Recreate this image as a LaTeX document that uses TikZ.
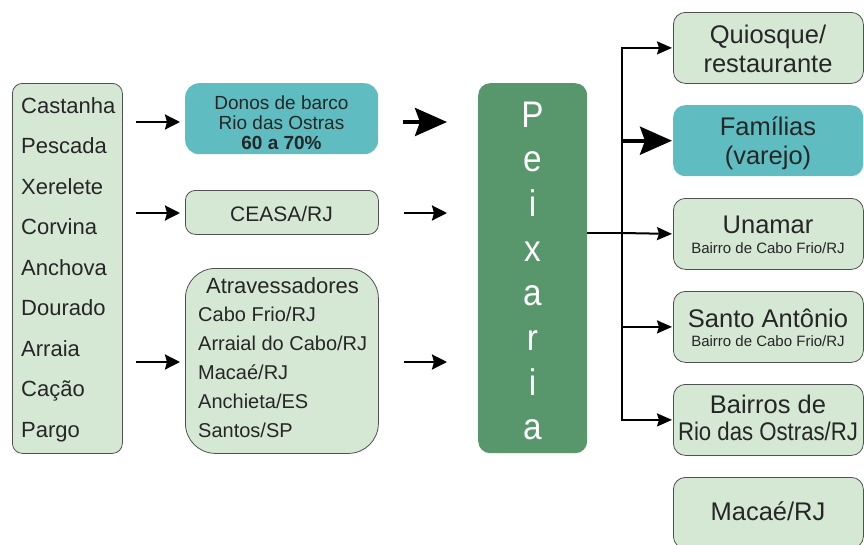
\documentclass[tikz,border=0pt]{standalone}
\usepackage{fontspec}
\setmainfont{Liberation Sans}
\usetikzlibrary{arrows.meta}
\definecolor{lg}{HTML}{D5E8D4}
\definecolor{tealbox}{HTML}{5FBDC1}
\definecolor{dg}{HTML}{58966B}
\definecolor{bd}{HTML}{505050}
\newcommand{\fsz}[1]{\fontsize{#1}{#1}\selectfont}
\begin{document}
\begin{tikzpicture}[x=1pt,y=-1pt,
  lbox/.style={draw=bd, line width=0.8pt, fill=lg, inner sep=0pt, anchor=north west},
  tbox/.style={fill=tealbox, inner sep=0pt, anchor=north west},
  pbox/.style={fill=dg, inner sep=0pt, anchor=north west},
  txt/.style={inner sep=0pt, anchor=base, text=black!85},
  txtl/.style={inner sep=0pt, anchor=base west, text=black!85},
  thinarrow/.style={line width=2.4pt, -{Stealth[length=15pt,width=15pt,inset=2pt]}},
  rarrow/.style={line width=2pt, -{Stealth[length=15pt,width=13pt,inset=2pt]}},
  thickarrow/.style={line width=4pt, -{Stealth[length=32pt,width=28pt,inset=5pt]}},
  conn/.style={line width=2pt}]
\useasboundingbox[fill=white] (0,0) rectangle (864,544);

% left column
\node[lbox, rounded corners=10pt, minimum width=110pt, minimum height=370pt] (fish) at (12,83) {};
\foreach \f [count=\i from 0] in {Castanha,Pescada,Xerelete,Corvina,Anchova,Dourado,Arraia,Cação,Pargo}
  \node[txtl, font=\fsz{22}] (f\i) at (21,{113+40.5*\i}) {\f};

% middle column
\node[tbox, rounded corners=14pt, minimum width=193pt, minimum height=71pt] (donos) at (185,83) {};
\node[txt, font=\fsz{19}] (d1) at (281.5,109) {Donos de barco};
\node[txt, font=\fsz{19}] (d2) at (281.5,129) {Rio das Ostras};
\node[txt, font=\fsz{19}\bfseries] (d3) at (281.5,149) {60 a 70\%};

\node[lbox, rounded corners=10pt, minimum width=193pt, minimum height=44pt] (ceasa) at (185,190) {};
\node[txt, font=\fsz{21}] (ce) at (281.5,221) {CEASA/RJ};

\node[lbox, rounded corners=30pt, minimum width=193pt, minimum height=185pt] (atr) at (185,268) {};
\node[txt, font=\fsz{22}] (at0) at (282.5,293) {Atravessadores};
\foreach \t [count=\i from 1] in {Cabo Frio/RJ,Arraial do Cabo/RJ,Macaé/RJ,Anchieta/ES,Santos/SP}
  \node[txtl, font=\fsz{20}] (at\i) at (198,{293+28.8*\i}) {\t};

% Peixaria
\node[pbox, rounded corners=12pt, minimum width=109pt, minimum height=370pt] (peix) at (478,83) {};
\foreach \l [count=\i from 0] in {P,e,i,x,a,r,i,a}
  \node[inner sep=0pt, anchor=base, text=white, font=\fsz{37}] (p\i) at (532.5,{127+44.7*\i}) {\scalebox{0.9}[1]{\l}};

% right column
\node[lbox, rounded corners=12pt, minimum width=190pt, minimum height=71pt] (quio) at (673,12) {};
\node[txt, font=\fsz{25.5}] (q1) at (768,43) {Quiosque/};
\node[txt, font=\fsz{25.5}] (q2) at (768,72) {restaurante};

\node[tbox, rounded corners=12pt, minimum width=190pt, minimum height=71pt] (fam) at (673,105) {};
\node[txt, font=\fsz{25.5}] (fa1) at (768,135) {Famílias};
\node[txt, font=\fsz{25.5}] (fa2) at (768,164) {(varejo)};

\node[lbox, rounded corners=12pt, minimum width=190pt, minimum height=71pt] (una) at (673,198) {};
\node[txt, font=\fsz{25.5}] (u1) at (768,233) {Unamar};
\node[txt, font=\fsz{15}] (u2) at (768,253) {Bairro de Cabo Frio/RJ};

\node[lbox, rounded corners=12pt, minimum width=190pt, minimum height=71pt] (santo) at (673,291) {};
\node[txt, font=\fsz{25.5}] (s1) at (768,327) {Santo Antônio};
\node[txt, font=\fsz{15}] (s2) at (768,346) {Bairro de Cabo Frio/RJ};

\node[lbox, rounded corners=12pt, minimum width=190pt, minimum height=71pt] (bair) at (673,384) {};
\node[txt, font=\fsz{25.5}] (b1) at (768,413) {Bairros de};
\node[txt, font=\fsz{25.5}] (b2) at (768,440) {\scalebox{0.87}[1]{Rio das Ostras/RJ}};

\node[lbox, rounded corners=12pt, minimum width=190pt, minimum height=71pt] (mac) at (673,477) {};
\node[txt, font=\fsz{25.5}] (m1) at (768,520) {Macaé/RJ};

% arrows left -> middle
\coordinate (r1) at (136,122);
\coordinate (r2) at (136,213);
\coordinate (r3) at (136,362);
\draw[thinarrow] (r1) -- ([xshift=-5pt]donos.west |- r1);
\draw[thinarrow] (r2) -- ([xshift=-5pt]ceasa.west |- r2);
\draw[thinarrow] (r3) -- ([xshift=-5pt]atr.west |- r3);

% arrows middle -> Peixaria
\draw[thickarrow] ([xshift=25pt]donos.east |- r1) -- ([xshift=-31pt]peix.west |- r1);
\draw[thinarrow] ([xshift=25pt]ceasa.east |- r2) -- ([xshift=-31pt]peix.west |- r2);
\draw[thinarrow] ([xshift=25pt]atr.east |- r3) -- ([xshift=-31pt]peix.west |- r3);

% Peixaria -> right
\coordinate (tr) at (622,233);
\draw[conn] (peix.east |- tr) -- (tr);
\draw[rarrow] (tr |- fam.west) -- (tr |- quio.west) -- ([xshift=-1pt]quio.west);
\draw[rarrow] (tr |- fam.west) -- (tr |- bair.west) -- ([xshift=-1pt]bair.west);
\draw[thickarrow] (tr |- fam.west) -- ([xshift=-1pt]fam.west);
\draw[rarrow] (tr) -- ([xshift=-1pt]una.west);
\draw[rarrow] (tr |- santo.west) -- ([xshift=-1pt]santo.west);
\end{tikzpicture}
\end{document}
